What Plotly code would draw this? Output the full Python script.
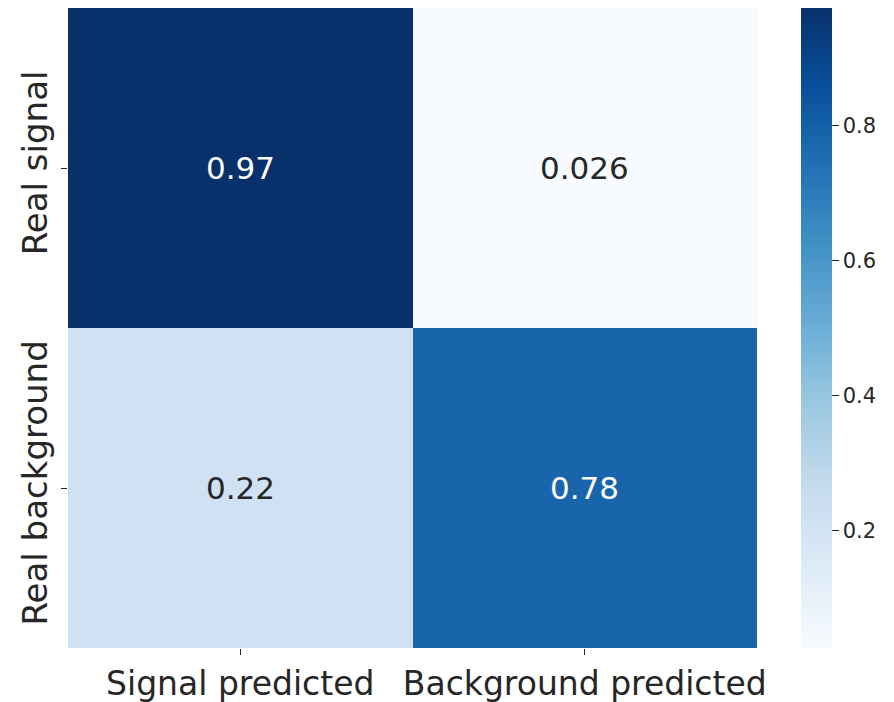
import plotly.graph_objects as go

# Normalised confusion matrix (rows: true class, columns: predicted class)
pred_labels = ["Signal predicted", "Background predicted"]
true_labels = ["Real signal", "Real background"]
rates = [
    [0.974, 0.026],
    [0.22, 0.78],
]
cbar_ticks = [0.2, 0.4, 0.6, 0.8]

blues = [
    "rgb(247,251,255)", "rgb(222,235,247)", "rgb(198,219,239)",
    "rgb(158,202,225)", "rgb(107,174,214)", "rgb(66,146,198)",
    "rgb(33,113,181)", "rgb(8,81,156)", "rgb(8,48,107)",
]
scale = [[i / (len(blues) - 1), c] for i, c in enumerate(blues)]

flat = [v for row in rates for v in row]
zmin, zmax = min(flat), max(flat)

fig = go.Figure(
    go.Heatmap(
        z=rates,
        x=pred_labels,
        y=true_labels,
        colorscale=scale,
        zmin=zmin,
        zmax=zmax,
        xgap=0,
        ygap=0,
        hoverongaps=False,
        colorbar=dict(
            x=1.0639,
            xanchor="left",
            xpad=0,
            y=0.5,
            yanchor="middle",
            ypad=0,
            len=1.0,
            thickness=31,
            outlinewidth=0,
            tickvals=cbar_ticks,
            ticktext=[f"{t:.1f}" for t in cbar_ticks],
            ticks="outside",
            ticklen=7,
            tickwidth=1.2,
            tickcolor="#262626",
            tickfont=dict(family="DejaVu Sans", size=21, color="#262626"),
        ),
    )
)

# Cell annotations, colour chosen for contrast with the cell shade
mid = (zmin + zmax) / 2
for i, row in enumerate(rates):
    for j, v in enumerate(row):
        fig.add_annotation(
            x=pred_labels[j],
            y=true_labels[i],
            text=f"{v:.2g}",
            showarrow=False,
            font=dict(family="DejaVu Sans", size=31,
                      color="#ffffff" if v > mid else "#262626"),
        )

fig.update_layout(
    width=894,
    height=702,
    margin=dict(l=68, r=137, t=8, b=54, autoexpand=False),
    paper_bgcolor="white",
    plot_bgcolor="white",
    font=dict(family="DejaVu Sans", color="#262626"),
)
fig.update_xaxes(
    automargin=False,
    showgrid=False, zeroline=False, showline=False,
    ticks="outside", ticklen=6, tickwidth=1.2, tickcolor="#262626",
    tickfont=dict(size=33, color="#262626"),
)
fig.update_yaxes(
    automargin=False,
    autorange="reversed",
    showgrid=False, zeroline=False, showline=False,
    ticks="outside", ticklen=6, tickwidth=1.2, tickcolor="#262626",
    tickangle=-90,
    tickfont=dict(size=34, color="#262626"),
)

fig.write_html("out.html")
